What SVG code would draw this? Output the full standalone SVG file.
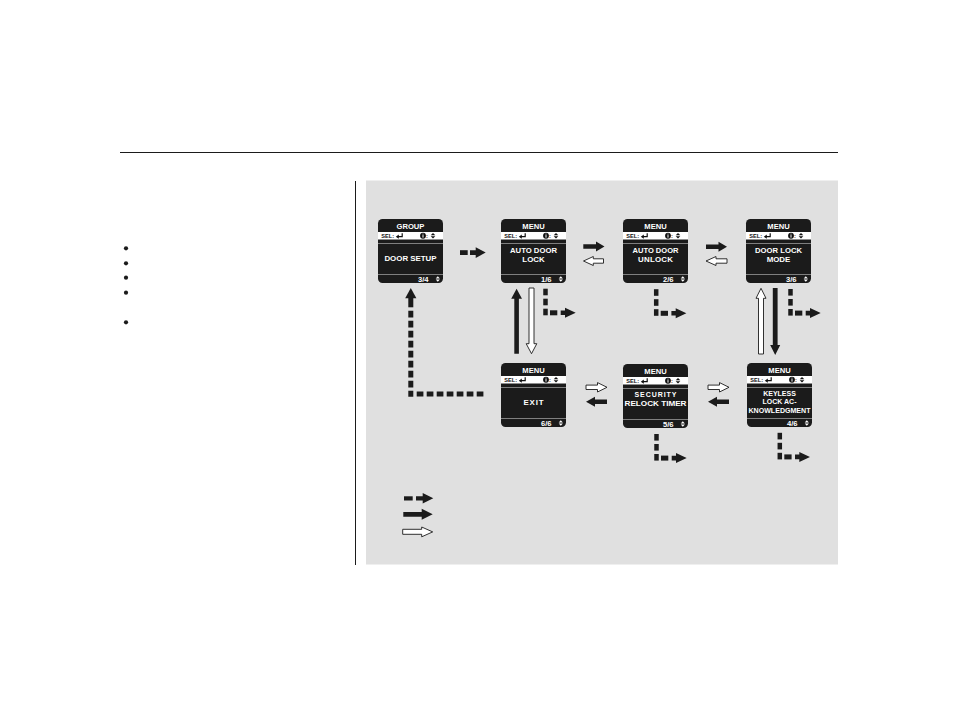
<svg xmlns="http://www.w3.org/2000/svg" xmlns:xlink="http://www.w3.org/1999/xlink" width="954" height="709" viewBox="0 0 954 709">
<style>
.hd{font-family:'Liberation Sans',Arial,sans-serif;font-weight:bold;font-size:7.6px;fill:#fff;text-anchor:middle}
.mt{font-family:'Liberation Sans',Arial,sans-serif;font-weight:bold;font-size:7.9px;fill:#fff;text-anchor:middle}
.mts{font-family:'Liberation Sans',Arial,sans-serif;font-weight:bold;font-size:7px;fill:#fff;text-anchor:middle}
.sel{font-family:'Liberation Sans',Arial,sans-serif;font-weight:bold;font-size:5.6px;fill:#111}
.pg{font-family:'Liberation Sans',Arial,sans-serif;font-weight:bold;font-size:7.6px;fill:#fff;text-anchor:end}
.arr{fill:#1b1b1b}
.hol{fill:#fff;stroke:#1b1b1b;stroke-width:0.9}
.dash{fill:none;stroke:#1b1b1b;stroke-width:5;stroke-dasharray:6.7 3.3}
</style>
<defs>
<g id="frame">
<rect width="65" height="64" rx="4.5" fill="#1b1b1b"/>
<rect y="13" width="65" height="7.5" fill="#fff"/>
<rect y="24" width="65" height="0.9" fill="#8c8c8c"/>
<rect y="55" width="65" height="0.9" fill="#8c8c8c"/>
<path d="M23.6,14.3 H24.8 V18.3 H20.4 V17.1 H23.6 Z M17.8,17.7 L20.8,15.6 V19.8 Z" fill="#111"/>
<circle cx="45" cy="16.75" r="2.9" fill="#111"/>
<rect x="44.5" y="16.1" width="1" height="2.5" fill="#fff"/>
<circle cx="45" cy="15" r="0.6" fill="#fff"/>
<path d="M55,13.9 L57.3,16.3 H52.7 Z M55,19.6 L57.3,17.2 H52.7 Z" fill="#111"/>
<path d="M59.8,57.2 L61.9,59.6 H57.7 Z M59.8,62.8 L61.9,60.4 H57.7 Z" fill="#fff"/>
</g>
<g id="ldash" class="arr">
<rect x="-2.25" y="0" width="4.5" height="6.6"/>
<rect x="-2.25" y="10" width="4.5" height="6.6"/>
<rect x="-2.25" y="20" width="4.5" height="6.6"/>
<rect x="4.5" y="21.6" width="7.3" height="5"/>
<path d="M15.2,21.8 H19.5 V19.1 L30.2,24.1 L19.5,29.1 V26.4 H15.2 Z"/>
</g>
</defs>

<rect x="0" y="0" width="954" height="709" fill="#fff"/>
<line x1="120" y1="152.5" x2="838" y2="152.5" stroke="#1b1b1b" stroke-width="1"/>
<line x1="355.5" y1="181" x2="355.5" y2="565" stroke="#1b1b1b" stroke-width="1"/>
<rect x="366" y="180.5" width="472" height="384" fill="#e0e0e0"/>

<g id="bullets" fill="#1b1b1b">
<circle cx="126" cy="248.3" r="2.1"/>
<circle cx="126" cy="263.3" r="2.1"/>
<circle cx="126" cy="277.7" r="2.1"/>
<circle cx="126" cy="292.7" r="2.1"/>
<circle cx="126" cy="322.3" r="2.1"/>
</g>

<g id="n-group" transform="translate(378,219)">
<use xlink:href="#frame"/>
<text class="hd" x="32.5" y="9.5">GROUP</text>
<text class="sel" x="3.3" y="18.9">SEL:</text>
<text class="sel" x="48" y="18.9">:</text>
<text class="mt" x="32.5" y="42">DOOR SETUP</text>
<text class="pg" x="50.5" y="62.8">3/4</text>
</g>

<g id="n-lock" transform="translate(501,219)">
<use xlink:href="#frame"/>
<text class="hd" x="32.5" y="9.5">MENU</text>
<text class="sel" x="3.3" y="18.9">SEL:</text>
<text class="sel" x="48" y="18.9">:</text>
<text class="mt" x="32.5" y="33.6" textLength="47" lengthAdjust="spacingAndGlyphs">AUTO DOOR</text>
<text class="mt" x="32.5" y="42.6">LOCK</text>
<text class="pg" x="50.5" y="62.8">1/6</text>
</g>

<g id="n-unlock" transform="translate(623,219)">
<use xlink:href="#frame"/>
<text class="hd" x="32.5" y="9.5">MENU</text>
<text class="sel" x="3.3" y="18.9">SEL:</text>
<text class="sel" x="48" y="18.9">:</text>
<text class="mt" x="32.5" y="33.6" textLength="46" lengthAdjust="spacingAndGlyphs">AUTO DOOR</text>
<text class="mt" x="32.5" y="42.6" textLength="35" lengthAdjust="spacing">UNLOCK</text>
<text class="pg" x="50.5" y="62.8">2/6</text>
</g>

<g id="n-mode" transform="translate(746,219)">
<use xlink:href="#frame"/>
<text class="hd" x="32.5" y="9.5">MENU</text>
<text class="sel" x="3.3" y="18.9">SEL:</text>
<text class="sel" x="48" y="18.9">:</text>
<text class="mt" x="32.5" y="33.6" textLength="47" lengthAdjust="spacingAndGlyphs">DOOR LOCK</text>
<text class="mt" x="32.5" y="42.6">MODE</text>
<text class="pg" x="50.5" y="62.8">3/6</text>
</g>

<g id="n-exit" transform="translate(501,363)">
<use xlink:href="#frame"/>
<text class="hd" x="32.5" y="9.5">MENU</text>
<text class="sel" x="3.3" y="18.9">SEL:</text>
<text class="sel" x="48" y="18.9">:</text>
<text class="mt" x="32.5" y="42" textLength="20" lengthAdjust="spacing">EXIT</text>
<text class="pg" x="50.5" y="62.8">6/6</text>
</g>

<g id="n-security" transform="translate(623,364)">
<use xlink:href="#frame"/>
<text class="hd" x="32.5" y="9.5">MENU</text>
<text class="sel" x="3.3" y="18.9">SEL:</text>
<text class="sel" x="48" y="18.9">:</text>
<text class="mts" x="32.5" y="33" font-size="7.6" textLength="42" lengthAdjust="spacing">SECURITY</text>
<text class="mts" x="32.5" y="42" font-size="7.6" textLength="62" lengthAdjust="spacingAndGlyphs">RELOCK TIMER</text>
<text class="pg" x="50.5" y="62.8">5/6</text>
</g>

<g id="n-keyless" transform="translate(747,363)">
<use xlink:href="#frame"/>
<text class="hd" x="32.5" y="9.5">MENU</text>
<text class="sel" x="3.3" y="18.9">SEL:</text>
<text class="sel" x="48" y="18.9">:</text>
<text class="mts" x="32.5" y="32.6">KEYLESS</text>
<text class="mts" x="32.5" y="41.4">LOCK AC-</text>
<text class="mts" x="32.5" y="49.8" textLength="62" lengthAdjust="spacingAndGlyphs">KNOWLEDGMENT</text>
<text class="pg" x="50.5" y="62.8">4/6</text>
</g>

<g id="connectors">
<g class="arr">
<rect x="460" y="250.2" width="7.7" height="4.8"/>
<path d="M470,250.3 H475.7 V247.3 L485.7,252.6 L475.7,257.9 V254.9 H470 Z"/>
</g>
<path class="arr" d="M583.3,244.3 H596 V241.5 L604.5,246.5 L596,251.5 V248.7 H583.3 Z"/>
<path class="hol" d="M583.5,261 L593.3,256.5 V258.8 H603.5 V263.2 H593.3 V265.5 Z"/>
<path class="arr" d="M706,244.5 H718.5 V241.7 L727,246.7 L718.5,251.7 V248.9 H706 Z"/>
<path class="hol" d="M706,261 L716,256.5 V258.8 H727 V263.2 H716 V265.5 Z"/>
<path class="hol" d="M586,385.1 H597.5 V382.6 L607,387.3 L597.5,392 V389.5 H586 Z"/>
<path class="arr" d="M586,401.7 L595,396.7 V399.5 H607 V403.9 H595 V406.7 Z"/>
<path class="hol" d="M708,385.1 H719.5 V382.6 L729,387.3 L719.5,392 V389.5 H708 Z"/>
<path class="arr" d="M708,401.7 L717,396.7 V399.5 H729 V403.9 H717 V406.7 Z"/>
<path class="arr" d="M516.6,288.7 L522,298.7 H518.9 V353.7 H514.3 V298.7 H511.2 Z"/>
<path class="hol" d="M529,288 H534 V343.7 H536.8 L531.5,353.7 L526.2,343.7 H529 Z"/>
<path class="hol" d="M761,288.3 L766,298.3 H763.5 V354 H758.5 V298.3 H756 Z"/>
<path class="arr" d="M772.8,288 H777.6 V345 H780.2 L775.2,355 L770.2,345 H772.8 Z"/>
<use xlink:href="#ldash" x="545.5" y="288.7"/>
<use xlink:href="#ldash" x="656.2" y="289.2"/>
<use xlink:href="#ldash" x="790.5" y="289"/>
<use xlink:href="#ldash" x="656.5" y="434"/>
<use xlink:href="#ldash" x="779.8" y="432.8"/>
<path class="arr" d="M410.8,288 L416.4,298.3 H405.2 Z"/>
<rect class="arr" x="408.3" y="298" width="5" height="9.3"/>
<line class="dash" x1="410.8" y1="310.7" x2="410.8" y2="396.7"/>
<line class="dash" x1="416.7" y1="393.9" x2="483.4" y2="393.9"/>
</g>

<g id="legend">
<rect class="arr" x="404" y="496.3" width="8.7" height="4.2"/>
<path class="arr" d="M416,496.2 H422.7 V493 L433.3,498.3 L422.7,503.6 V500.4 H416 Z"/>
<path class="arr" d="M403.3,511.9 H421.7 V508.8 L432.7,514.3 L421.7,519.8 V516.7 H403.3 Z"/>
<path class="hol" d="M402.7,529.3 H421.7 V527 L432.7,531.9 L421.7,536.8 V534.3 H402.7 Z"/>
</g>
</svg>
